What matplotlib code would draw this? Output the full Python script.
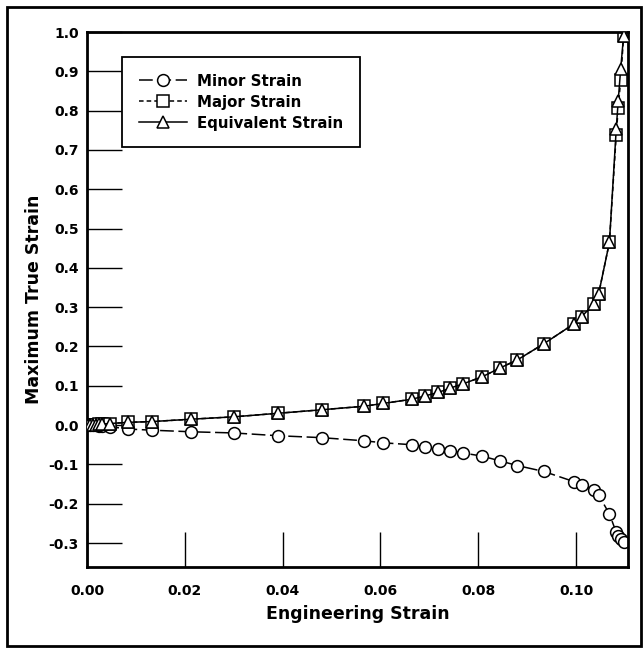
import numpy as np
import matplotlib
matplotlib.use("Agg")
import matplotlib.pyplot as plt
from matplotlib.patches import Rectangle

plt.rcParams['font.family'] = ['DejaVu Sans']
plt.rcParams['font.weight'] = 'bold'
plt.rcParams['axes.unicode_minus'] = False

# engineering strain (shared by all three series)
eng_strain = [0.0, 0.0006, 0.0012, 0.0018, 0.0024, 0.003, 0.0047, 0.0084, 0.0133,
              0.0213, 0.030, 0.039, 0.048, 0.0567, 0.0605, 0.0665, 0.069, 0.0718,
              0.0742, 0.0769, 0.0808, 0.0844, 0.088, 0.0934, 0.0996, 0.1011,
              0.1036, 0.1046, 0.1068, 0.1082, 0.1086, 0.1091, 0.1097]

minor_strain = [0.0, -0.0003, -0.0006, -0.001, -0.0015, -0.002, -0.004, -0.010, -0.013,
                -0.017, -0.020, -0.027, -0.032, -0.040, -0.045, -0.050, -0.055, -0.061,
                -0.065, -0.071, -0.079, -0.091, -0.103, -0.118, -0.144, -0.152,
                -0.165, -0.178, -0.226, -0.273, -0.283, -0.289, -0.298]

major_strain = [0.0, 0.0005, 0.001, 0.0015, 0.002, 0.0025, 0.004, 0.007, 0.009,
                0.015, 0.021, 0.030, 0.039, 0.048, 0.055, 0.066, 0.074, 0.083,
                0.094, 0.105, 0.123, 0.145, 0.166, 0.207, 0.258, 0.276,
                0.307, 0.334, 0.465, 0.739, 0.807, 0.878, 0.990]

equiv_strain = [0.0, 0.0005, 0.001, 0.0015, 0.002, 0.0025, 0.004, 0.007, 0.009,
                0.015, 0.021, 0.030, 0.039, 0.048, 0.055, 0.066, 0.074, 0.083,
                0.094, 0.105, 0.123, 0.145, 0.166, 0.207, 0.258, 0.276,
                0.307, 0.334, 0.465, 0.754, 0.825, 0.906, 0.990]

x_ticks = [0.00, 0.02, 0.04, 0.06, 0.08, 0.10]
y_ticks = [-0.3, -0.2, -0.1, 0.0, 0.1, 0.2, 0.3, 0.4, 0.5, 0.6, 0.7, 0.8, 0.9, 1.0]

fig = plt.figure(figsize=(6.43, 6.48), dpi=100)
ax = fig.add_axes([87/643, 81/648, 541/643, 535/648])

mk = dict(markerfacecolor='white', markeredgecolor='black', markeredgewidth=1.1,
          color='black', linewidth=1.1)
ax.plot(eng_strain, minor_strain, marker='o', markersize=8.5,
        linestyle=(0, (9, 3)), label='Minor Strain', **mk)
ax.plot(eng_strain, equiv_strain, marker='^', markersize=8.5,
        linestyle='-', label='Equivalent Strain', zorder=3, **mk)
ax.plot(eng_strain, major_strain, marker='s', markersize=8.5,
        linestyle=(0, (3, 2)), label='Major Strain', zorder=2.5, **mk)

ax.set_xlim(0, 0.1106)
ax.set_ylim(-0.361, 1.0)
ax.set_xticks(x_ticks)
ax.set_yticks(y_ticks)
ax.set_xticklabels(['%.2f' % v for v in x_ticks])
ax.set_yticklabels(['%.1f' % v for v in y_ticks])
ax.tick_params(direction='in', length=25, width=1.0, labelsize=10)
ax.tick_params(axis='x', pad=12)
ax.tick_params(axis='y', pad=6)
for s in ax.spines.values():
    s.set_linewidth(2.0)

ax.set_xlabel('Engineering Strain', fontsize=12.5, fontweight='bold', labelpad=5)
ax.set_ylabel('Maximum True Strain', fontsize=12.5, fontweight='bold', labelpad=4)

h, l = ax.get_legend_handles_labels()
order = [0, 2, 1]
leg = ax.legend([h[i] for i in order], [l[i] for i in order],
                loc='upper left', bbox_to_anchor=(0.065, 0.953), borderaxespad=0,
                fancybox=False, edgecolor='black', framealpha=1,
                prop={'weight': 'bold', 'size': 10.8}, handlelength=3.2,
                handletextpad=0.7, borderpad=1.1, labelspacing=0.4)
leg.get_frame().set_linewidth(1.3)

fig.patches.append(Rectangle((7/643, 2/648), 634/643, 639/648, transform=fig.transFigure,
                             fill=False, edgecolor='black', linewidth=2.0))

fig.savefig('out.png', dpi=100)
